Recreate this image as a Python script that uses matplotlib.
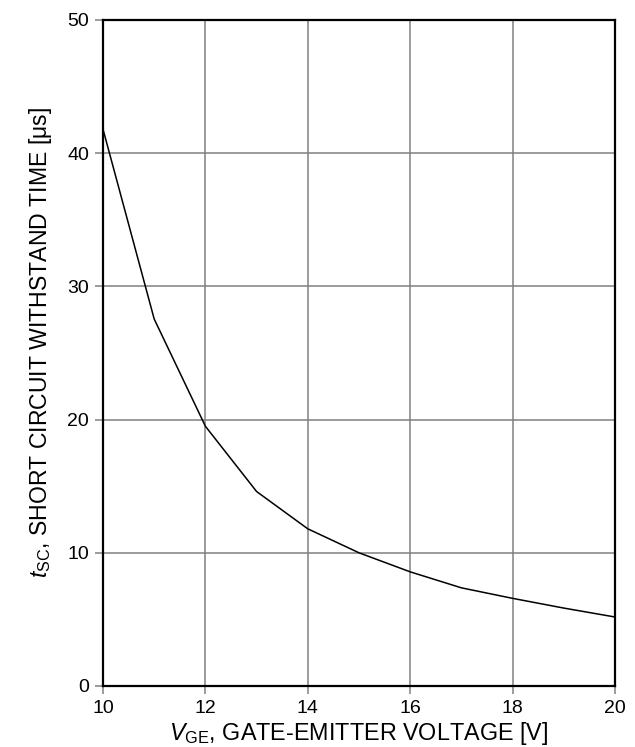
import matplotlib
matplotlib.use("Agg")
import matplotlib.pyplot as plt

vge = [10, 11, 12, 13, 14, 15, 16, 17, 18, 19, 20]
tsc = [41.8, 27.55, 19.5, 14.6, 11.8, 10.0, 8.57, 7.37, 6.58, 5.85, 5.18]
xticks = [10, 12, 14, 16, 18, 20]
yticks = [0, 10, 20, 30, 40, 50]

plt.rcParams['font.family'] = ['Liberation Sans', 'DejaVu Sans']
plt.rcParams['mathtext.fontset'] = 'custom'
plt.rcParams['mathtext.rm'] = 'Liberation Sans'
plt.rcParams['mathtext.it'] = 'Liberation Sans:italic'

fig = plt.figure(figsize=(6.35, 7.47), dpi=100)
ax = fig.add_axes([103/635, 1-686/747, (615-103)/635, (686-20)/747])
ax.plot(vge, tsc, color='black', lw=1.1, zorder=3)
ax.set_xlim(10, 20)
ax.set_ylim(0, 50)
ax.set_xticks(xticks)
ax.set_yticks(yticks)
ax.grid(True, color='#808080', lw=1.1)
ax.tick_params(direction='out', length=6, width=1.1, color='#808080', labelsize=14, pad=4)
for s in ax.spines.values():
    s.set_linewidth(1.6)
    s.set_color('black')
    s.set_zorder(4)
ax.set_xlabel(r'$\mathit{V}_{\mathrm{GE}}$, GATE-EMITTER VOLTAGE [V]', fontsize=16.8, labelpad=2)
ax.set_ylabel(r'$\mathit{t}_{\mathrm{SC}}$, SHORT CIRCUIT WITHSTAND TIME [μs]', fontsize=16.6)
ax.yaxis.set_label_coords(-0.095, 0.516)
fig.savefig('out.png', dpi=100)
